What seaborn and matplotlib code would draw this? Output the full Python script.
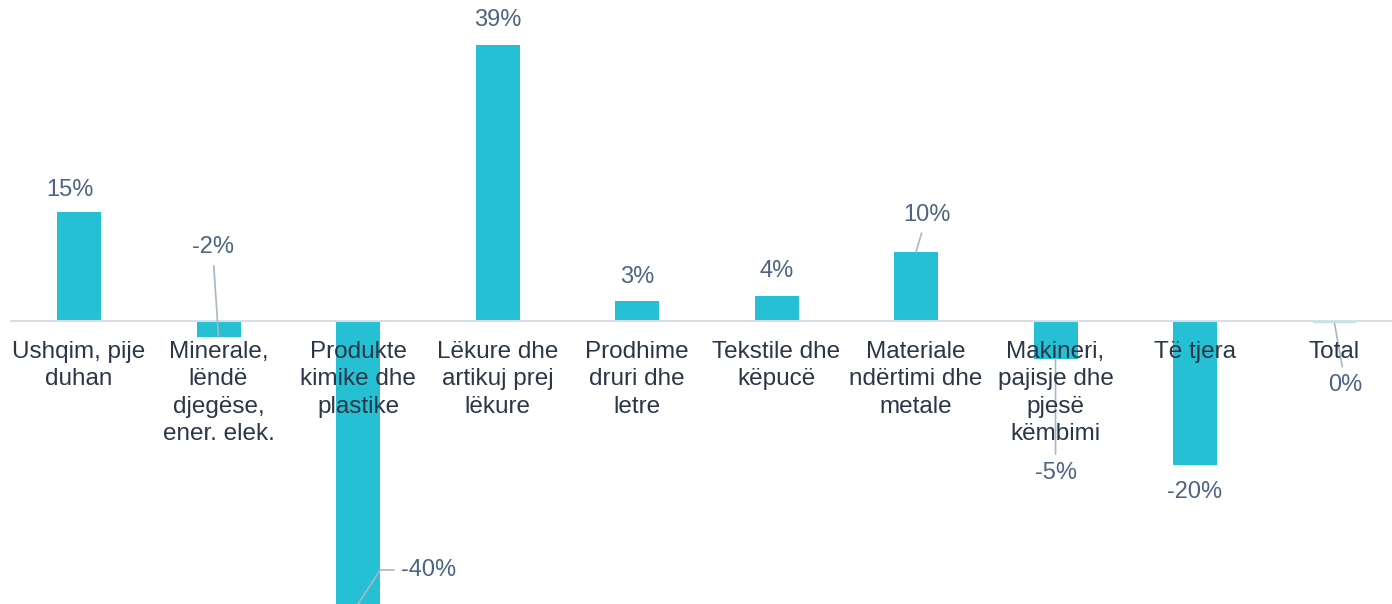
import matplotlib
matplotlib.use("Agg")
import matplotlib.pyplot as plt
import seaborn as sns
import pandas as pd

# datos
categorias = [
    "Ushqim, pije\nduhan",
    "Minerale,\nlëndë\ndjegëse,\nener. elek.",
    "Produkte\nkimike dhe\nplastike",
    "Lëkure dhe\nartikuj prej\nlëkure",
    "Prodhime\ndruri dhe\nletre",
    "Tekstile dhe\nkëpucë",
    "Materiale\nndërtimi dhe\nmetale",
    "Makineri,\npajisje dhe\npjesë\nkëmbimi",
    "Të tjera",
    "Total",
]
valores = [15.4, -2.3, -40.0, 39.0, 2.9, 3.5, 9.8, -5.3, -20.4, -0.3]
etiquetas = ["15%", "-2%", "-40%", "39%", "3%", "4%", "10%", "-5%", "-20%", "0%"]
colores = ["#25c0d3"] * 9 + ["#b2e5ec"]

# desplazamiento de cada etiqueta (pixeles) y si lleva linea guia
offsets = [(-9, 22), (-6, 90), (71, 34), (0, 25), (0, 24),
           (0, 25), (11, 37), (0, -114), (0, -27), (11, -62)]
con_linea = [False, True, True, False, False, False, True, True, False, True]

sns.set_theme(style="white")
plt.rcParams["font.family"] = ["Liberation Sans", "DejaVu Sans"]

df = pd.DataFrame({"cat": categorias, "val": valores})

fig = plt.figure(figsize=(13.92, 6.04), dpi=100)
ax = fig.add_axes([10 / 1392, 0, 1382 / 1392, 1])

sns.barplot(data=df, x="cat", y="val", hue="cat", palette=colores,
            legend=False, width=0.315, saturation=1, linewidth=0, ax=ax)

ax.set_xlim(-0.495, 9.412)
ax.set_ylim(-40.0, 45.4)
ax.axhline(0, color="#d6dee6", lw=1.5, zorder=3)
ax.set_axis_off()

color_val = "#4d6482"
color_linea = "#a9b7c5"

for i, (v, lab, off, linea) in enumerate(zip(valores, etiquetas, offsets, con_linea)):
    props = None
    if linea:
        props = dict(arrowstyle="-", color=color_linea, lw=1.2, shrinkA=3, shrinkB=0)
        if i == 2:
            props["connectionstyle"] = "angle,angleA=0,angleB=57,rad=0"
    ax.annotate(lab, xy=(i, v), xytext=off, textcoords="offset pixels",
                ha="center", va="center", fontsize=17, color=color_val,
                arrowprops=props, zorder=5)

for i, cat in enumerate(categorias):
    ax.annotate(cat, xy=(i, 0), xytext=(0, -20), textcoords="offset pixels",
                ha="center", va="top", fontsize=17.5, color="#2b3646",
                linespacing=1.31, zorder=6)

plt.savefig("out.png", dpi=100)
plt.close()
